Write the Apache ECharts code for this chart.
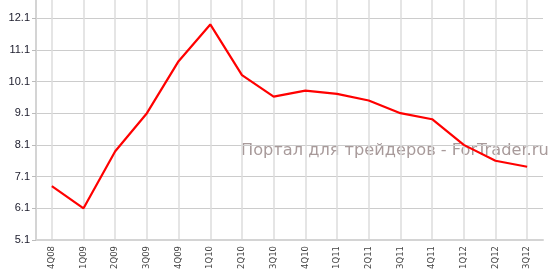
<!DOCTYPE html>
<html><head><meta charset="utf-8">
<script src="https://cdn.jsdelivr.net/npm/echarts@6/dist/echarts.min.js"></script>
<style>html,body{margin:0;padding:0;background:#fff}#c{width:555px;height:279px}</style>
</head><body><div id="c"></div>
<script>
const categories = ['4Q08','1Q09','2Q09','3Q09','4Q09','1Q10','2Q10','3Q10','4Q10','1Q11','2Q11','3Q11','4Q11','1Q12','2Q12','3Q12'];
const values = [6.8, 6.1, 7.9, 9.1, 10.74, 11.9, 10.3, 9.62, 9.81, 9.71, 9.5, 9.1, 8.91, 8.1, 7.6, 7.41];
const watermark = 'Портал для трейдеров - ForTrader.ru';

const chart = echarts.init(document.getElementById('c'), null, {renderer: 'canvas'});
chart.setOption({
  animation: false,
  grid: {left: 36, right: 12, top: 0, bottom: 39, containLabel: false},
  xAxis: {
    type: 'category', data: categories, boundaryGap: true,
    axisLine: {lineStyle: {color: '#d4d4d4', width: 2}},
    axisTick: {alignWithLabel: true, length: 3, lineStyle: {color: '#bbbbbb'}},
    axisLabel: {rotate: 90, margin: 6, fontFamily: 'DejaVu Sans', fontSize: 8.5, color: '#444'},
    splitLine: {show: true, alignWithLabel: true, lineStyle: {color: '#dcdcdc', width: 1.5}}
  },
  yAxis: {
    type: 'value', min: 5.1, max: 12.67, interval: 1,
    axisLine: {show: true, lineStyle: {color: '#d4d4d4', width: 2}},
    axisTick: {show: true, length: 4, lineStyle: {color: '#bbbbbb'}},
    axisLabel: {showMaxLabel: false, margin: 6, fontFamily: 'Liberation Sans', fontSize: 11, color: '#1a1a2a',
      formatter: v => v.toFixed(1)},
    splitLine: {show: true, showMaxLine: false, lineStyle: {color: '#cccccc', width: 1}}
  },
  graphic: [{
    type: 'text', left: 241, top: 143, silent: true,
    style: {text: watermark, fontFamily: 'DejaVu Sans', fontSize: 16.2, fill: '#a89a9a'}
  }],
  series: [{
    type: 'line', data: values, showSymbol: false, symbol: 'none',
    lineStyle: {color: '#ff0000', width: 2.2}
  }]
});
</script></body></html>
